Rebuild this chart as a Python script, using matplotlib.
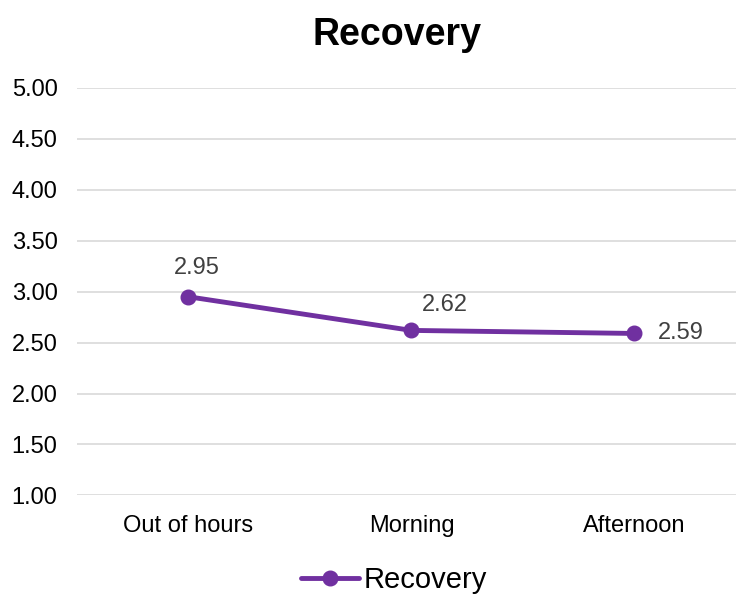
import matplotlib
matplotlib.use("Agg")
import matplotlib.pyplot as plt

categories = ["Out of hours", "Morning", "Afternoon"]
recovery = [2.95, 2.62, 2.59]
y_ticks = [1.0, 1.5, 2.0, 2.5, 3.0, 3.5, 4.0, 4.5, 5.0]

plt.rcParams['font.family'] = ['Liberation Sans', 'DejaVu Sans']

purple = '#7030A0'

fig = plt.figure(figsize=(7.36, 5.95), dpi=100)
# axes runs past the right edge like the original
ax = fig.add_axes([77 / 736, 99.6 / 595, 669 / 736, 407.4 / 595])

x = list(range(len(categories)))
line, = ax.plot(x, recovery, color=purple, lw=3.5, marker='o', markersize=10.5,
                label='Recovery', solid_capstyle='round', zorder=3)

# data labels, offsets in points
offsets = [((6, 21), 'center'), ((24, 18), 'center'), ((17, 0), 'left')]
for xi, v, (off, ha) in zip(x, recovery, offsets):
    ax.annotate(f"{v:.2f}", (xi, v), xytext=off, textcoords='offset points',
                ha=ha, va='center', fontsize=17, color='#404040')

ax.set_xlim(-0.5, 2.5)
ax.set_ylim(1.0, 5.0)
ax.set_yticks(y_ticks)
ax.set_yticklabels([f"{t:.2f}" for t in y_ticks])
ax.set_xticks(x)
ax.set_xticklabels(categories)
ax.tick_params(axis='both', length=0, labelsize=17, colors='black')
ax.tick_params(axis='y', pad=14)
ax.tick_params(axis='x', pad=14)
ax.grid(axis='y', color='#D9D9D9', lw=1.2)
ax.set_axisbelow(True)
for s in ax.spines.values():
    s.set_visible(False)

fig.text(397 / 736, (595 - 45) / 595, "Recovery", ha='center', va='baseline',
         fontsize=27, fontweight='bold')

fig.legend(handles=[line], labels=['Recovery'], loc='center',
           bbox_to_anchor=(394 / 736, 0.025), frameon=False, fontsize=21,
           handlelength=2.0, handletextpad=0.15, borderpad=0)

fig.savefig("out.png", dpi=100)
